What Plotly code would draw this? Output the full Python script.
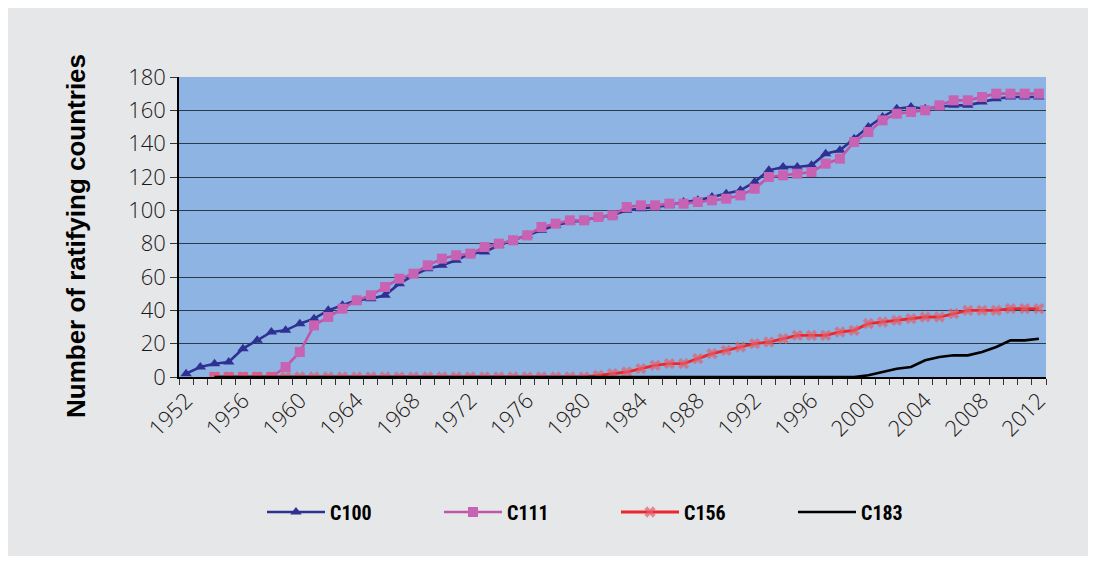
import plotly.graph_objects as go

# Ratifications of ILO conventions, cumulative by year
years = list(range(1952, 2013))

c100 = [2, 6, 8, 9, 17, 22, 27, 28, 32, 35,
        40, 43, 46, 47, 49, 56, 61, 65, 67, 70,
        74, 75, 79, 82, 85, 88, 91, 93, 94, 96,
        97, 100, 101, 102, 103, 105, 106, 108, 110, 112,
        117, 124, 126, 126, 127, 134, 136, 143, 150, 156,
        161, 162, 161, 162, 163, 163, 165, 167, 168, 168,
        168]

c111 = [None, None, 0, 0, 0, 0, 0, 6, 15, 31,
        36, 41, 46, 49, 54, 59, 62, 67, 71, 73,
        74, 78, 80, 82, 85, 90, 92, 94, 94, 96,
        97, 102, 103, 103, 104, 104, 105, 106, 107, 109,
        113, 120, 121, 122, 123, 128, 131, 141, 147, 154,
        158, 159, 160, 163, 166, 166, 168, 170, 170, 170,
        170]

c156 = [None, None] + [0] * 27 + [
        1, 2, 3, 5, 7, 8, 8, 11, 14, 16,
        18, 20, 21, 23, 25, 25, 25, 27, 28, 32,
        33, 34, 35, 36, 36, 38, 40, 40, 40, 41,
        41, 41]

c183 = [None, None] + [0] * 46 + [
        1, 3, 5, 6, 10, 12, 13, 13, 15, 18,
        22, 22, 23]

x_tick_years = list(range(1952, 2013, 4))
y_ticks = list(range(0, 181, 20))

W, H = 1096, 563
ML, MR, MT, MB = 179, 50, 77, 186
PW, PH = W - ML - MR, H - MT - MB


def px_to_paper_x(px):
    return (px - ML) / PW


def px_to_paper_y(py):
    return (H - MB - py) / PH


tick_font = dict(family="Open Sans, Liberation Sans, sans-serif", size=22,
                 color="#1a1718", weight=300)

fig = go.Figure()

fig.add_trace(go.Scatter(
    x=years, y=c100, name="C100", mode="lines+markers",
    line=dict(color="#2e3192", width=2.6),
    marker=dict(symbol="triangle-up", size=10, color="#2e3192"),
))
fig.add_trace(go.Scatter(
    x=years, y=c111, name="C111", mode="lines+markers",
    line=dict(color="#c454a8", width=2.6),
    marker=dict(symbol="square", size=10, color="#c862b2"),
))
fig.add_trace(go.Scatter(
    x=years, y=c156, name="C156", mode="lines+markers",
    line=dict(color="#ee2629", width=2.8),
    marker=dict(symbol="x", size=10, color="rgba(225,95,110,0.7)",
                line=dict(width=0)),
))
fig.add_trace(go.Scatter(
    x=years, y=c183, name="C183", mode="lines",
    line=dict(color="#000000", width=2.6),
))

shapes = [
    # grey panel behind the whole chart
    dict(type="rect", xref="paper", yref="paper", layer="below",
         x0=px_to_paper_x(8), x1=px_to_paper_x(1088),
         y0=px_to_paper_y(556), y1=px_to_paper_y(8),
         fillcolor="#e6e7e9", line=dict(width=0)),
    # plot area fill
    dict(type="rect", xref="paper", yref="paper", layer="below",
         x0=0, x1=1, y0=0, y1=1,
         fillcolor="#8db4e2", line=dict(width=0)),
]

annotations = [
    dict(text="<b>Number of ratifying countries</b>",
         xref="paper", yref="paper",
         x=px_to_paper_x(76), y=px_to_paper_y(236),
         xanchor="center", yanchor="middle", textangle=-90,
         showarrow=False,
         font=dict(family="Liberation Sans, Arial, sans-serif",
                   size=26, color="#000000")),
]

fig.update_layout(
    width=W, height=H,
    margin=dict(l=ML, r=MR, t=MT, b=MB, autoexpand=False),
    paper_bgcolor="#ffffff",
    plot_bgcolor="rgba(0,0,0,0)",
    shapes=shapes,
    annotations=annotations,
    showlegend=True,
    legend=dict(
        orientation="h",
        x=px_to_paper_x(262), xanchor="left",
        y=px_to_paper_y(512), yanchor="middle",
        bgcolor="rgba(0,0,0,0)",
        font=dict(family="Liberation Sans Narrow, Arial Narrow, Roboto Condensed, Liberation Sans, sans-serif",
                  size=20, color="#000000", weight="bold"),
        itemwidth=58,
        entrywidth=104, entrywidthmode="pixels",
    ),
    xaxis=dict(
        range=[1951.5, 2012.5],
        tickmode="array", tickvals=x_tick_years,
        ticktext=[str(y) for y in x_tick_years],
        tickangle=-45, tickfont=tick_font,
        ticks="", showgrid=False, zeroline=False,
        showline=True, linecolor="#000000", linewidth=2,
        minor=dict(ticks="outside", tick0=1951.5, dtick=1, ticklen=6,
                   tickcolor="#333333", tickwidth=1, showgrid=False),
        fixedrange=True,
    ),
    yaxis=dict(
        range=[0, 180], tickmode="array", tickvals=y_ticks,
        tickfont=tick_font, ticks="outside", ticklen=7,
        tickcolor="#333333", tickwidth=1,
        showgrid=True, gridcolor="#2c3947", gridwidth=1.3,
        zeroline=False,
        showline=True, linecolor="#000000", linewidth=1.5,
        fixedrange=True,
    ),
)

fig.write_html("out.html")
